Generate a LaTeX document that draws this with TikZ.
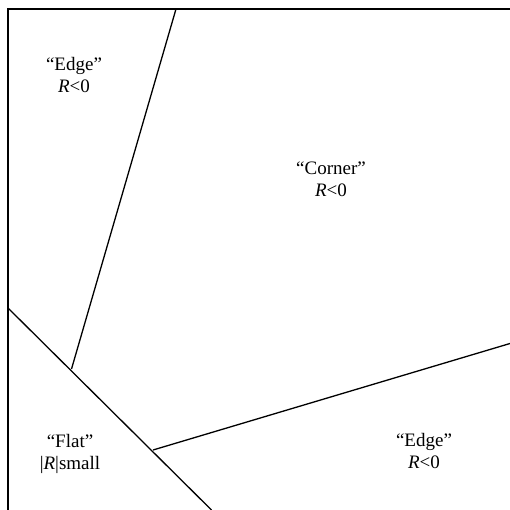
\documentclass[tikz,border=0pt]{standalone}
\usepackage{fontspec}
\setmainfont{Liberation Serif}
\begin{document}
\begin{tikzpicture}[x=1pt,y=-1pt,
  edge/.style={line width=1.3pt,black},
  lbl/.style={font=\fontsize{19}{22}\selectfont,align=center,inner sep=0pt}]
\useasboundingbox (0,0) rectangle (510,510);
\coordinate (tl) at (8,9);
\coordinate (tr) at (510,9);
\coordinate (bl) at (8,510);
\coordinate (a1) at (176,9);
\coordinate (a2) at (71.5,369);
\coordinate (d1) at (8,308);
\coordinate (d2) at (211.5,510);
\coordinate (b1) at (153,450);
\coordinate (b2) at (510,343.5);
\draw[edge] (tr) -- (tl) -- (bl);
\draw[edge] (a1) -- (a2);
\draw[edge] (d1) -- (d2);
\draw[edge] (b1) -- (b2);
\node[lbl] (e1) at (74,75) {“Edge”\\ \textit{R}<0};
\node[lbl] (c) at (331,179) {“Corner”\\ \textit{R}<0};
\node[lbl] (f) at (70,454) {“Flat”\\ |\textit{R}|small};
\node[lbl] (e2) at (424,451) {“Edge”\\ \textit{R}<0};
\end{tikzpicture}
\end{document}
